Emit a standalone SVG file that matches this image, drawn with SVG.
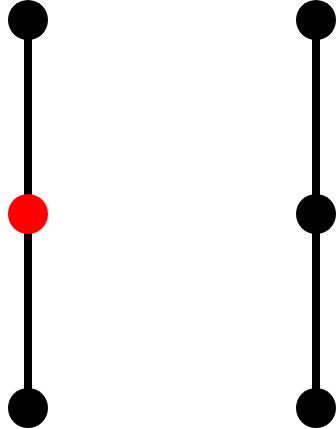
<svg xmlns="http://www.w3.org/2000/svg" width="336" height="429" viewBox="0 0 336 429">
<style>
.edge{stroke:#000;stroke-width:8;fill:none}
.n{fill:#000}
.r{fill:#ff0000}
</style>
<rect width="336" height="429" fill="#fff"/>
<g id="connectors">
<line class="edge" x1="28" y1="20" x2="28" y2="214"/>
<line class="edge" x1="28" y1="214" x2="28" y2="408"/>
<line class="edge" x1="316" y1="20" x2="316" y2="214"/>
<line class="edge" x1="316" y1="214" x2="316" y2="408"/>
</g>
<g id="n1"><circle class="n" cx="28" cy="20" r="20"/></g>
<g id="n2"><circle class="r" cx="28" cy="214" r="20"/></g>
<g id="n3"><circle class="n" cx="28" cy="408" r="20"/></g>
<g id="n4"><circle class="n" cx="316" cy="20" r="20"/></g>
<g id="n5"><circle class="n" cx="316" cy="214" r="20"/></g>
<g id="n6"><circle class="n" cx="316" cy="408" r="20"/></g>
</svg>
